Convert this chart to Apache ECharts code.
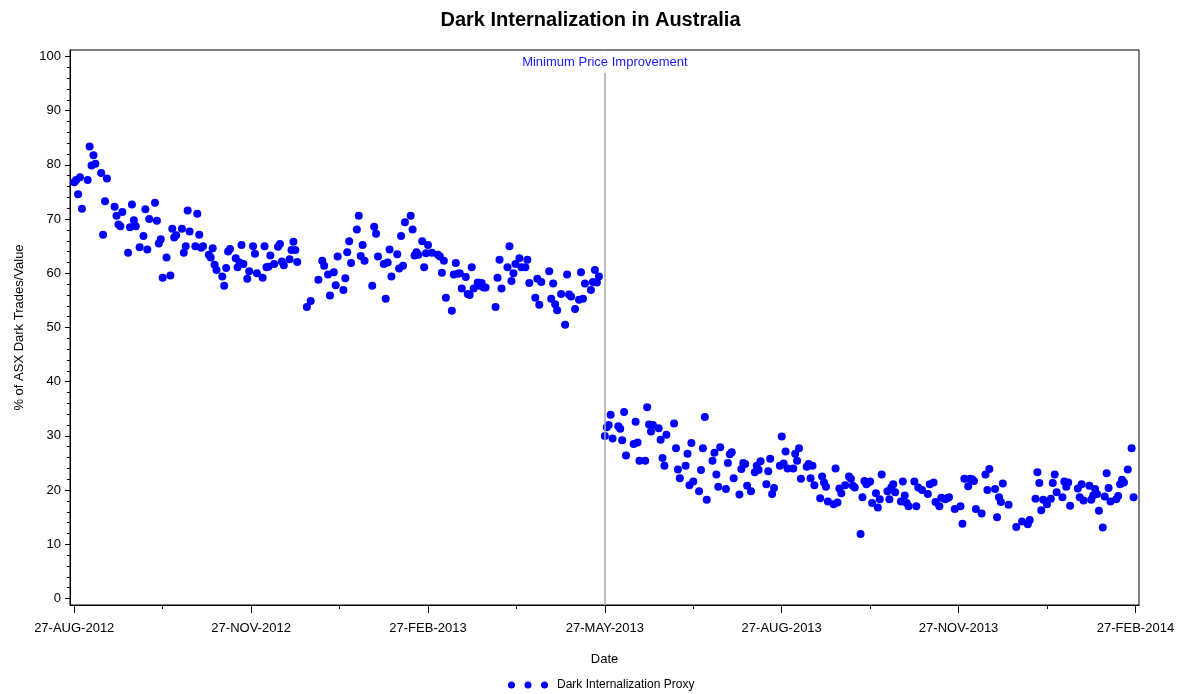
<!DOCTYPE html>
<html>
<head>
<meta charset="utf-8">
<title>Dark Internalization in Australia</title>
<script src="https://cdn.jsdelivr.net/npm/echarts@6/dist/echarts.min.js"></script>
<style>
  html, body { margin: 0; padding: 0; background: #ffffff; }
  #chart { width: 1181px; height: 694px; }
</style>
</head>
<body>
<div id="chart"></div>
<script>
// x axis: quarterly ticks, drawn evenly spaced like the original
var tickDates = ['2012-08-27', '2012-11-27', '2013-02-27', '2013-05-27', '2013-08-27', '2013-11-27', '2014-02-27'];
var tickLabels = ['27-AUG-2012', '27-NOV-2012', '27-FEB-2013', '27-MAY-2013', '27-AUG-2013', '27-NOV-2013', '27-FEB-2014'];
var yTicks = [0, 10, 20, 30, 40, 50, 60, 70, 80, 90, 100];

var eventDate = '2013-05-27';
var eventLabel = 'Minimum Price Improvement';
var seriesName = 'Dark Internalization Proxy';

// trading days, counted in days since startDate
var startDate = '2012-08-27';
var dayOffsets = [
  0, 1, 2, 3, 4, 7, 8, 9, 10, 11, 14, 15, 16, 17, 21, 22, 23, 24, 25, 28, 29, 30, 31, 32, 34, 36, 37, 38, 39,
  42, 43, 44, 45, 46, 48, 50, 51, 52, 53, 56, 57, 58, 59, 60, 63, 64, 65, 66, 67, 70, 71, 72, 73, 74,
  77, 78, 79, 80, 81, 84, 85, 86, 87, 88, 90, 91,
  93, 94, 95, 98, 99, 100, 101, 102, 104, 106, 107, 108, 109, 112, 113, 114, 115, 116,
  121, 123, 127, 129, 130, 132, 133, 135, 136, 137, 140, 141, 142, 143, 144, 147, 148, 149, 150, 151,
  155, 156, 157, 158, 161, 162, 163, 164, 165, 168, 169, 170, 171, 172, 175, 176, 177, 178, 179, 181, 182, 183, 184,
  186, 189, 190, 191, 192, 193, 196, 197, 198, 199, 200, 201, 203, 204, 205, 206, 207, 209, 210, 211,
  212, 213, 218, 219, 220, 221, 224, 225, 226, 227, 228, 230, 231, 233, 234, 235, 238, 239, 240, 241,
  245, 246, 247, 248, 249, 251, 253, 254, 255, 256, 258, 260, 261, 262, 263, 266, 267, 268, 269, 270,
  273, 274, 275, 276, 277, 280, 281, 282, 283, 284, 288, 289, 290, 291, 294, 295, 296, 297, 298,
  301, 302, 303, 304, 305, 309, 310, 311, 312, 315, 316, 317, 318, 319, 322, 323, 324, 325, 326,
  329, 330, 331, 332, 333, 336, 337, 338, 339, 340, 343, 344, 345, 346, 347, 349, 351, 352, 353, 354,
  357, 358, 359, 360, 361, 364, 365, 366, 367,
  368, 371, 372, 373, 374, 375, 378, 379, 380, 381, 382, 385, 386, 387, 388, 389, 392, 393, 394, 395,
  396, 398, 400, 401, 402, 403, 406, 407, 408, 409, 410, 411, 412, 414, 415, 416, 417, 420, 421, 422,
  423, 424, 427, 428, 429, 430, 431, 434, 435, 436, 438, 441, 442, 444, 445, 447, 448, 450, 451, 452,
  455, 458, 459, 460,
  462, 463, 464, 465, 466, 469, 471, 472, 473, 476, 477, 478, 479, 480, 483, 487, 490, 493, 494, 497,
  498, 499, 500, 501, 503, 505, 506, 507, 508, 511, 512, 513, 514, 515, 519, 520, 521, 522, 525, 526,
  527, 528, 529, 530, 532, 533, 534, 535, 536, 539, 540, 541, 542, 543, 545, 547, 548
];
// % of ASX dark trades / value
var proxyValues = [
  76.8, 77.2, 74.6, 77.7, 71.9, 77.2, 83.4, 79.9, 81.8, 80.2, 78.5, 67.1, 73.3, 77.5, 72.3, 70.6, 69.0, 68.7, 71.3, 63.8, 68.5, 72.7, 69.8, 68.7, 64.8, 66.9, 71.8, 64.4, 70.0,
  73.0, 69.7, 65.5, 66.3, 59.2, 62.9, 59.6, 68.2, 66.6, 67.0, 68.2, 63.8, 65.0, 71.6, 67.7, 65.0, 71.0, 67.1, 64.7, 65.0, 63.4, 62.9, 64.6, 61.6, 60.6,
  59.4, 57.7, 61.0, 64.0, 64.5, 62.8, 61.1, 62.0, 65.2, 61.7, 59.0, 60.4,
  65.0, 63.6, 60.0, 59.2, 65.0, 61.1, 61.2, 63.3, 61.7, 64.9, 65.4, 62.2, 61.5, 62.6, 64.3, 65.8, 64.3, 62.1,
  53.8, 54.9, 58.8, 62.3, 61.4, 59.8, 55.9, 60.2, 57.8, 63.1, 56.9, 59.1, 63.9, 65.9, 61.9, 68.1, 70.6, 63.2, 65.2, 62.3,
  57.7, 68.6, 67.3, 63.1, 61.7, 55.3, 62.0, 64.4, 59.4, 63.5, 60.9, 66.9, 61.4, 69.4, 70.6, 68.1, 63.3, 63.9, 63.4, 65.9, 61.1, 63.7, 65.2,
  63.8, 63.4, 63.1, 60.1, 62.3, 55.5, 53.1, 59.8, 61.9, 59.9, 60.0, 57.2, 59.3, 56.2, 56.0, 61.1, 57.2, 58.3, 57.7, 58.2,
  57.4, 57.4, 53.8, 59.2, 62.5, 57.2, 61.1, 65.0, 58.6, 60.0, 61.7, 62.8, 61.1, 61.1, 62.5, 58.2, 55.5, 59.0, 54.2, 58.4,
  60.4, 55.3, 58.1, 54.3, 53.2, 56.2, 50.5, 59.8, 56.1, 55.7, 53.4, 55.1, 60.2, 55.3, 58.1, 56.9, 58.4, 60.6, 58.3, 59.4,
  30.0, 31.6, 32.0, 33.9, 29.5, 31.8, 31.3, 29.2, 34.4, 26.4, 28.5, 32.6, 28.8, 25.4, 25.4, 35.3, 32.1, 30.8, 32.0,
  31.4, 29.3, 25.9, 24.5, 30.2, 32.3, 27.7, 23.8, 22.2, 24.5, 26.7, 20.9, 28.7, 21.6, 19.8, 23.7, 27.7, 33.5, 18.2,
  25.4, 26.9, 22.9, 20.6, 27.9, 20.2, 25.0, 26.6, 27.0, 22.2, 19.2, 23.9, 25.0, 24.8, 20.8, 19.8, 23.3, 24.5, 23.7, 25.3,
  21.1, 23.5, 25.8, 19.3, 20.4, 24.5, 29.9, 24.9, 27.1,
  24.0, 24.0, 26.7, 25.4, 27.7, 22.1, 24.3, 24.8, 22.2, 24.5, 20.9, 18.5, 22.5, 21.4, 20.6, 17.9, 17.4, 24.0, 17.7, 20.3,
  19.4, 20.9, 22.5, 22.1, 20.8, 20.5, 11.9, 18.7, 21.7, 21.1, 21.4, 21.6, 17.6, 19.4, 16.8, 18.3, 22.9, 19.8, 18.3, 20.5,
  21.1, 19.6, 17.9, 21.6, 19.0, 17.6, 17.0, 21.6, 17.0, 20.5, 20.0, 19.3, 21.1, 21.4, 17.8, 17.0, 18.6, 18.3, 18.5, 18.7,
  16.5, 17.0, 13.8, 22.1,
  20.7, 22.1, 22.0, 21.7, 16.5, 15.7, 22.9, 20.0, 23.9, 20.2, 15.0, 18.7, 17.8, 21.2, 17.3, 13.2, 14.2, 13.7, 14.5, 18.4,
  23.3, 21.3, 16.3, 18.2, 17.4, 18.4, 21.3, 22.9, 19.6, 18.7, 21.6, 20.6, 21.4, 17.1, 20.3, 18.7, 21.1, 18.1, 20.8, 18.2,
  19.0, 20.2, 19.3, 16.2, 13.1, 18.8, 23.1, 20.4, 17.9, 18.3, 18.9, 21.1, 21.9, 21.4, 23.8, 27.7, 18.7
];

var FONT = '"Liberation Sans", Arial, Helvetica, sans-serif';

function toDay(s) {
  var p = s.split('-');
  return Date.UTC(+p[0], +p[1] - 1, +p[2]) / 86400000;
}

var tickDays = tickDates.map(toDay);

// position on the quarter axis (0 = first tick, 1 = second tick, ...)
function axisPos(day) {
  for (var i = 0; i < tickDays.length - 1; i++) {
    if (day < tickDays[i + 1] || i === tickDays.length - 2) {
      return i + (day - tickDays[i]) / (tickDays[i + 1] - tickDays[i]);
    }
  }
}

var startDay = toDay(startDate);
var points = dayOffsets.map(function (d, i) {
  return [axisPos(startDay + d), proxyValues[i]];
});

var majorX = tickLabels.map(function (l, i) { return i; });
var minorX = majorX.slice(1).map(function (i) { return i - 0.5; });
var minorY = [];
for (var v = 0; v <= 100; v += 2) {
  if (v % 10 !== 0) minorY.push(v);
}
var eventX = axisPos(toDay(eventDate));

var xMin = -0.024, xMax = 6.02;
var yMin = -1.2, yMax = 101.2;

var chart = echarts.init(document.getElementById('chart'));

var option = {
  animation: false,
  backgroundColor: '#ffffff',
  textStyle: { fontFamily: FONT },
  title: {
    text: 'Dark Internalization in Australia',
    left: 'center',
    top: 10,
    padding: 0,
    textStyle: { fontFamily: FONT, fontSize: 20, fontWeight: 'bold', color: '#000000' }
  },
  legend: {
    left: 508,
    top: 679,
    padding: 0,
    itemWidth: 40,
    itemHeight: 7,
    selectedMode: false,
    textStyle: { fontFamily: FONT, fontSize: 12, color: '#000000', padding: [0, 0, 0, 4] },
    data: [{
      name: seriesName,
      icon: 'path://M0,3.5a3.5,3.5 0 1,0 7,0a3.5,3.5 0 1,0 -7,0M16.5,3.5a3.5,3.5 0 1,0 7,0a3.5,3.5 0 1,0 -7,0M33,3.5a3.5,3.5 0 1,0 7,0a3.5,3.5 0 1,0 -7,0'
    }]
  },
  grid: {
    left: 70,
    right: 42,
    top: 50,
    bottom: 89,
    show: true,
    borderColor: '#000000',
    borderWidth: 1
  },
  xAxis: [{
    type: 'value',
    min: xMin,
    max: xMax,
    position: 'bottom',
    name: 'Date',
    nameLocation: 'middle',
    nameGap: 48,
    nameTextStyle: { fontFamily: FONT, fontSize: 13, color: '#000000' },
    axisLine: { show: true, onZero: false, lineStyle: { color: '#000000', width: 1 } },
    axisTick: { show: true, customValues: majorX, length: 8, lineStyle: { color: '#000000' } },
    axisLabel: {
      customValues: majorX,
      margin: 17,
      fontSize: 13,
      color: '#000000',
      formatter: function (val) { return tickLabels[Math.round(val)]; }
    },
    splitLine: { show: false }
  }, {
    type: 'value',
    min: xMin,
    max: xMax,
    position: 'bottom',
    axisLine: { show: false, onZero: false },
    axisTick: { show: true, customValues: minorX, length: 4, lineStyle: { color: '#000000' } },
    axisLabel: { show: false },
    splitLine: { show: false }
  }],
  yAxis: [{
    type: 'value',
    min: yMin,
    max: yMax,
    position: 'left',
    name: '% of ASX Dark Trades/Value',
    nameLocation: 'middle',
    nameGap: 44,
    nameTextStyle: { fontFamily: FONT, fontSize: 13, color: '#000000' },
    axisLine: { show: true, onZero: false, lineStyle: { color: '#000000', width: 1 } },
    axisTick: { show: true, customValues: yTicks, length: 5, lineStyle: { color: '#000000' } },
    axisLabel: { customValues: yTicks, margin: 9, fontSize: 13, color: '#000000' },
    splitLine: { show: false }
  }, {
    type: 'value',
    min: yMin,
    max: yMax,
    position: 'left',
    axisLine: { show: false, onZero: false },
    axisTick: { show: true, customValues: minorY, length: 3, lineStyle: { color: '#000000' } },
    axisLabel: { show: false },
    splitLine: { show: false }
  }],
  series: [{
    name: seriesName,
    type: 'scatter',
    xAxisIndex: 0,
    yAxisIndex: 0,
    symbol: 'circle',
    symbolSize: 8,
    itemStyle: { color: '#0000ff', opacity: 1 },
    emphasis: { disabled: true },
    data: points,
    markLine: {
      silent: true,
      symbol: ['none', 'none'],
      lineStyle: { color: '#a8a8a8', width: 1.5, type: 'solid' },
      label: {
        show: true,
        position: 'start',
        distance: 4,
        formatter: eventLabel,
        fontFamily: FONT,
        fontSize: 13,
        color: '#1a1aff'
      },
      data: [[{ coord: [eventX, 97] }, { coord: [eventX, yMin] }]]
    }
  }]
};

chart.setOption(option);
</script>
</body>
</html>
